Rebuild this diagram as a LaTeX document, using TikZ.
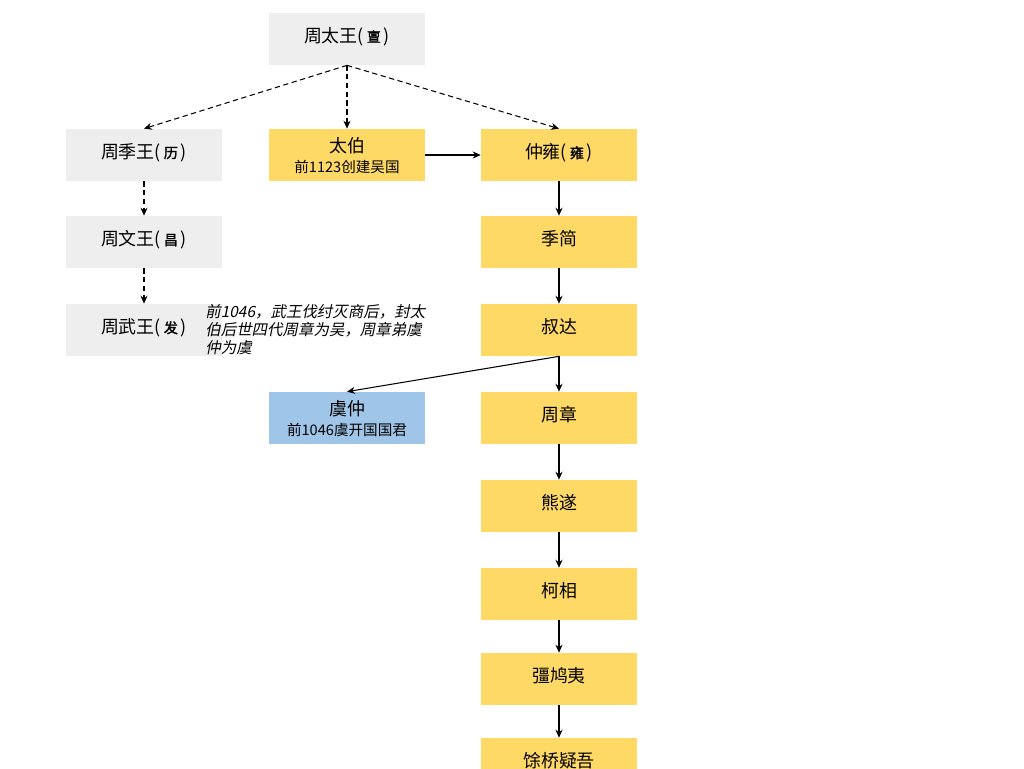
\documentclass[tikz,border=0pt]{standalone}
\usepackage{fontspec}
\setmainfont{Noto Sans CJK SC}
\newfontfamily\cjkbold[FakeBold=1.5]{Noto Sans CJK SC}
\newfontfamily\cjkslant[FakeSlant=0.2]{Noto Sans CJK SC}
\usetikzlibrary{arrows.meta}
\definecolor{kinggray}{HTML}{EEEEEE}
\definecolor{wuyellow}{HTML}{FFD966}
\definecolor{yublue}{HTML}{9FC5E8}
\tikzset{>={Stealth[length=4.5pt,width=4pt]}}
\newcommand{\mingzi}[1]{(\,{\cjkbold\fontsize{8}{8}\selectfont #1}\,)}
\newcommand{\shishi}[1]{{\fontsize{8.3}{10}\selectfont #1}}

\begin{document}
\begin{tikzpicture}[x=0.02cm, y=-0.02cm,
    box/.style={minimum width=3.12cm, minimum height=1.04cm, inner sep=0pt,
        align=center, text depth=5pt, font=\fontsize{10.2}{12}\selectfont},
    two/.style={text depth=-2pt},
    zhou/.style={box, fill=kinggray},
    wu/.style={box, fill=wuyellow},
    yu/.style={box, fill=yublue},
    line/.style={->, line width=0.6pt},
    dline/.style={->, line width=0.6pt, dash pattern=on 3pt off 2pt}]
    \useasboundingbox (0,0) rectangle (1024,768);

    %zhou line
    \node[zhou] (taiwang) at (347,39) {周太王\mingzi{亶}};
    \node[zhou] (jili) at (144,155) {周季王\mingzi{历}};
    \node[zhou] (wenwang) at (144,242) {周文王\mingzi{昌}};
    \node[zhou] (wuwang) at (144,330) {周武王\mingzi{发}};

    %wu line
    \node[wu, two] (taibo) at (347,155) {太伯\\[-0.4pt]\shishi{前1123创建吴国}};
    \node[wu] (zhongyong) at (559,155) {仲雍\mingzi{雍}};
    \node[wu] (jijian) at (559,242) {季简};
    \node[wu] (shuda) at (559,330) {叔达};
    \node[wu] (zhouzhang) at (559,418) {周章};
    \node[wu] (xiongsui) at (559,506) {熊遂};
    \node[wu] (kexiang) at (559,594) {柯相};
    \node[wu] (jiangjiuyi) at (559,679) {彊鸠夷};
    \node[wu] (yuqiaoyiwu) at (559,764) {馀桥疑吾};

    %yu
    \node[yu, two] (yuzhong) at (347,418) {虞仲\\[-0.4pt]\shishi{前1046虞开国国君}};

    %note
    \node[anchor=north west, inner sep=0pt, align=left,
        font=\cjkslant\fontsize{8.8}{10.4}\selectfont] (fengyu) at (205,304)
        {前1046，武王伐纣灭商后，封太\\伯后世四代周章为吴，周章弟虞\\仲为虞};

    %dashed arrows
    \draw[dline] (taiwang.south) -- (jili.north);
    \draw[dline] (taiwang.south) -- (taibo.north);
    \draw[dline] (taiwang.south) -- (zhongyong.north);
    \draw[dline] (jili) -- (wenwang);
    \draw[dline] (wenwang) -- (wuwang);

    %solid arrows
    \draw[line] (taibo) -- (zhongyong);
    \foreach \a/\b in {zhongyong/jijian, jijian/shuda, shuda/zhouzhang,
        zhouzhang/xiongsui, xiongsui/kexiang, kexiang/jiangjiuyi,
        jiangjiuyi/yuqiaoyiwu}
        \draw[line] (\a) -- (\b);
    \draw[line] (shuda.south) -- (yuzhong.north);
\end{tikzpicture}
\end{document}
